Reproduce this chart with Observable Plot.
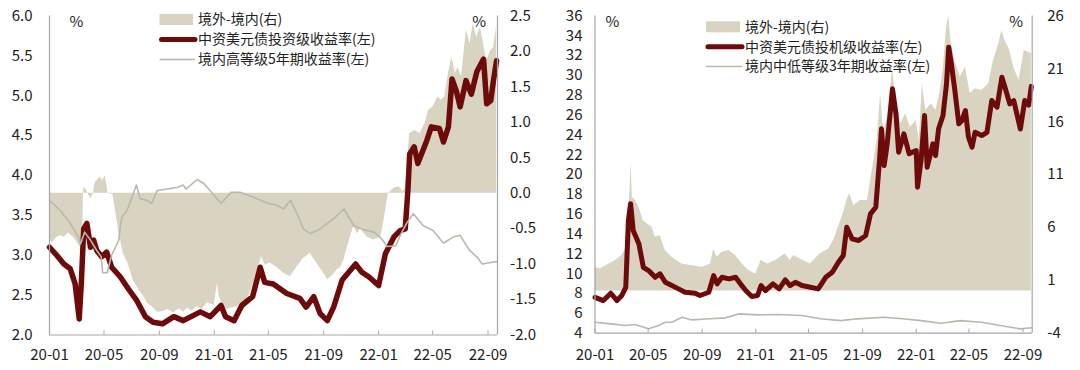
<!DOCTYPE html>
<html><head><meta charset="utf-8">
<script src="https://cdn.jsdelivr.net/npm/d3@7"></script>
<script src="https://cdn.jsdelivr.net/npm/@observablehq/plot@0.6"></script>
<style>
body{margin:0;background:#fff;}
#wrap{position:relative;width:1080px;height:370px;display:flex;font-family:"Noto Sans CJK SC",sans-serif;color:#222;}
#wrap svg.plot{flex:none;}
#legend{position:absolute;left:0;top:0;pointer-events:none;}
</style></head><body><div id="wrap"></div>
<script>
// ---------- data ----------
const xTickLabels = ["20-01","20-05","20-09","21-01","21-05","21-09","22-01","22-05","22-09"];
const leftLegend = ["境外-境内(右)", "中资美元债投资级收益率(左)", "境内高等级5年期收益率(左)"];
const rightLegend = ["境外-境内(右)", "中资美元债投机级收益率(左)", "境内中低等级3年期收益率(左)"];

// Left panel: spread (right axis), IG USD yield (left), onshore AA+ 5Y (left)
const leftSpread = [["2020-01-01",-0.66],["2020-01-08",-0.70],["2020-01-15",-0.64],["2020-01-24",-0.60],["2020-02-03",-0.62],["2020-02-12",-0.56],["2020-02-23",-0.62],["2020-03-03",-0.70],["2020-03-08",-0.75],["2020-03-14",-0.72],["2020-03-17",0.08],["2020-03-23",0.05],["2020-04-01",-0.08],["2020-04-08",0.0],["2020-04-11",0.14],["2020-04-22",0.23],["2020-04-28",0.18],["2020-05-04",0.25],["2020-05-07",0.12],["2020-05-10",0.0],["2020-05-21",-0.02],["2020-05-28",-0.30],["2020-06-03",-0.55],["2020-06-13",-0.85],["2020-06-24",-1.0],["2020-07-05",-1.23],["2020-07-12",-1.30],["2020-07-20",-1.39],["2020-07-28",-1.45],["2020-08-05",-1.55],["2020-08-12",-1.58],["2020-08-19",-1.62],["2020-08-28",-1.68],["2020-09-10",-1.67],["2020-09-20",-1.64],["2020-10-03",-1.69],["2020-10-15",-1.63],["2020-10-25",-1.68],["2020-11-02",-1.62],["2020-11-12",-1.66],["2020-11-24",-1.60],["2020-12-05",-1.64],["2020-12-16",-1.55],["2021-01-01",-1.58],["2021-01-08",-1.27],["2021-01-12",-1.45],["2021-01-19",-1.58],["2021-01-28",-1.64],["2021-02-07",-1.62],["2021-02-21",-1.60],["2021-03-03",-1.55],["2021-03-13",-1.51],["2021-03-25",-1.35],["2021-04-05",-1.13],["2021-04-16",-0.90],["2021-04-25",-1.02],["2021-05-04",-0.98],["2021-05-19",-1.04],["2021-06-04",-1.13],["2021-06-19",-1.18],["2021-07-04",-1.04],["2021-07-18",-0.92],["2021-08-02",-0.85],["2021-08-17",-0.99],["2021-09-01",-1.13],["2021-09-10",-1.22],["2021-09-22",-1.15],["2021-10-01",-1.08],["2021-10-08",-1.05],["2021-10-16",-0.94],["2021-10-30",-0.62],["2021-11-07",-0.47],["2021-11-15",-0.57],["2021-11-22",-0.50],["2021-12-07",-0.62],["2021-12-21",-0.66],["2022-01-06",-0.62],["2022-01-13",-0.38],["2022-01-19",-0.14],["2022-01-23",0.0],["2022-02-04",0.07],["2022-02-15",0.09],["2022-02-24",0.02],["2022-03-01",0.06],["2022-03-07",0.51],["2022-03-11",0.84],["2022-03-22",0.89],["2022-04-03",0.84],["2022-04-14",0.98],["2022-04-22",1.17],["2022-05-02",1.22],["2022-05-13",1.36],["2022-05-20",1.31],["2022-05-28",1.36],["2022-06-05",1.69],["2022-06-13",1.92],["2022-06-20",1.69],["2022-06-27",1.78],["2022-07-04",1.64],["2022-07-15",2.30],["2022-07-23",2.11],["2022-07-30",2.39],["2022-08-07",2.20],["2022-08-15",2.34],["2022-08-22",2.11],["2022-08-29",1.87],["2022-09-07",2.01],["2022-09-13",2.05],["2022-09-20",2.35]];

const leftRed = [["2020-01-01",3.10],["2020-01-17",3.00],["2020-02-02",2.89],["2020-02-16",2.83],["2020-02-27",2.64],["2020-03-07",2.20],["2020-03-12",2.69],["2020-03-17",3.33],["2020-03-24",3.40],["2020-04-01",3.10],["2020-04-08",3.19],["2020-04-15",3.06],["2020-04-26",2.98],["2020-05-07",3.04],["2020-05-18",2.85],["2020-06-06",2.73],["2020-06-24",2.58],["2020-07-13",2.43],["2020-08-01",2.23],["2020-08-18",2.16],["2020-09-08",2.14],["2020-10-03",2.23],["2020-10-24",2.18],["2020-12-01",2.29],["2020-12-23",2.23],["2021-01-16",2.37],["2021-01-26",2.23],["2021-02-14",2.18],["2021-03-03",2.37],["2021-03-27",2.48],["2021-04-13",2.85],["2021-04-23",2.66],["2021-05-12",2.64],["2021-06-11",2.52],["2021-07-10",2.46],["2021-07-24",2.35],["2021-08-10",2.48],["2021-08-24",2.27],["2021-09-09",2.18],["2021-09-23",2.35],["2021-10-12",2.69],["2021-11-11",2.89],["2021-11-24",2.79],["2021-12-10",2.73],["2022-01-01",2.62],["2022-01-16",3.02],["2022-02-04",3.23],["2022-02-18",3.31],["2022-03-01",3.33],["2022-03-07",3.81],["2022-03-11",4.27],["2022-03-21",4.36],["2022-03-29",4.15],["2022-04-18",4.44],["2022-04-28",4.61],["2022-05-16",4.59],["2022-05-25",4.42],["2022-06-05",4.61],["2022-06-13",5.21],["2022-06-23",5.05],["2022-07-01",4.86],["2022-07-14",5.19],["2022-07-26",5.02],["2022-08-07",5.30],["2022-08-22",5.46],["2022-08-29",4.90],["2022-09-07",4.94],["2022-09-13",5.19],["2022-09-20",5.44]];

const leftGray = [["2020-01-01",3.69],["2020-01-25",3.56],["2020-02-16",3.40],["2020-03-05",3.23],["2020-03-10",3.14],["2020-03-19",3.29],["2020-04-01",3.19],["2020-04-15",3.06],["2020-04-25",2.98],["2020-04-28",2.78],["2020-05-08",2.78],["2020-05-18",3.00],["2020-06-03",3.19],["2020-06-06",3.35],["2020-06-10",3.48],["2020-06-21",3.56],["2020-06-27",3.65],["2020-07-05",3.77],["2020-07-12",3.88],["2020-07-20",3.71],["2020-08-04",3.69],["2020-08-15",3.65],["2020-08-27",3.81],["2020-09-18",3.83],["2020-10-10",3.85],["2020-10-24",3.88],["2020-10-30",3.83],["2020-11-24",3.95],["2020-12-09",3.90],["2021-01-01",3.75],["2021-01-16",3.65],["2021-02-07",3.79],["2021-02-27",3.79],["2021-03-28",3.73],["2021-05-01",3.65],["2021-05-19",3.63],["2021-06-04",3.58],["2021-06-19",3.69],["2021-07-04",3.52],["2021-07-18",3.33],["2021-08-02",3.27],["2021-08-24",3.33],["2021-09-23",3.46],["2021-10-16",3.58],["2021-11-07",3.37],["2021-11-28",3.32],["2021-12-22",3.29],["2022-01-07",3.21],["2022-01-20",3.11],["2022-02-08",3.12],["2022-02-18",3.25],["2022-03-04",3.40],["2022-03-19",3.52],["2022-04-10",3.37],["2022-05-02",3.31],["2022-05-25",3.15],["2022-06-16",3.23],["2022-07-01",3.25],["2022-07-22",3.06],["2022-08-07",2.98],["2022-08-19",2.89],["2022-09-07",2.91],["2022-09-20",2.92]];

// Right panel: spread (right axis), HY USD yield (left), onshore mid/low grade 3Y (left)
const rightSpread = [["2020-01-01",2.24],["2020-01-13",2.08],["2020-02-02",2.55],["2020-02-17",2.87],["2020-03-02",3.34],["2020-03-13",4.13],["2020-03-21",9.8],["2020-03-23",12.17],["2020-03-26",8.86],["2020-04-02",8.54],["2020-04-10",7.91],["2020-04-20",6.65],["2020-04-28",6.34],["2020-05-10",6.02],["2020-05-17",5.07],["2020-05-28",5.23],["2020-06-09",3.81],["2020-06-24",3.18],["2020-07-17",2.55],["2020-08-09",2.39],["2020-09-02",2.24],["2020-09-20",2.55],["2020-09-27",3.97],["2020-10-05",3.18],["2020-10-16",3.66],["2020-11-01",3.81],["2020-11-16",3.34],["2020-12-01",2.55],["2020-12-16",1.92],["2021-01-01",1.6],["2021-01-13",2.87],["2021-01-28",2.55],["2021-02-15",2.87],["2021-03-09",3.5],["2021-03-20",2.87],["2021-03-28",3.34],["2021-04-13",3.0],["2021-05-05",2.55],["2021-05-27",3.5],["2021-06-16",3.97],["2021-06-27",4.76],["2021-07-08",6.02],["2021-07-19",7.29],["2021-07-27",8.54],["2021-08-03",9.18],["2021-08-12",8.07],["2021-08-27",8.54],["2021-09-12",8.54],["2021-09-23",11.38],["2021-10-04",14.22],["2021-10-12",18.64],["2021-10-19",14.86],["2021-10-31",17.06],["2021-11-08",21.16],["2021-11-16",18.0],["2021-11-27",15.8],["2021-12-08",16.75],["2021-12-19",15.48],["2022-01-01",16.11],["2022-01-08",14.22],["2022-01-15",19.58],["2022-01-23",17.06],["2022-02-04",17.69],["2022-02-15",17.06],["2022-02-25",18.95],["2022-03-04",21.16],["2022-03-11",24.94],["2022-03-16",26.0],["2022-03-22",23.37],["2022-03-30",21.79],["2022-04-11",20.2],["2022-04-23",21.16],["2022-05-04",18.64],["2022-05-15",19.11],["2022-05-30",18.95],["2022-06-15",19.58],["2022-06-26",21.79],["2022-07-08",23.37],["2022-07-15",24.63],["2022-07-22",23.68],["2022-08-02",22.74],["2022-08-11",21.16],["2022-08-23",19.9],["2022-09-04",22.74],["2022-09-20",22.45]];

const rightRed = [["2020-01-01",7.62],["2020-01-20",7.29],["2020-02-06",8.03],["2020-02-20",7.29],["2020-03-02",7.8],["2020-03-11",8.63],["2020-03-17",15.36],["2020-03-22",17.05],["2020-03-28",14.35],["2020-04-10",13.0],["2020-04-20",10.65],["2020-05-02",10.32],["2020-05-17",9.64],["2020-05-28",9.98],["2020-06-09",9.14],["2020-06-24",8.81],["2020-07-09",8.47],["2020-07-24",8.13],["2020-08-16",8.03],["2020-08-27",7.8],["2020-09-16",8.13],["2020-09-27",9.81],["2020-10-05",8.98],["2020-10-16",9.64],["2020-11-01",9.48],["2020-11-16",9.64],["2020-11-27",8.98],["2020-12-09",8.3],["2020-12-23",7.7],["2021-01-05",7.8],["2021-01-13",8.81],["2021-01-23",8.3],["2021-02-09",8.98],["2021-02-23",8.47],["2021-03-09",9.38],["2021-03-20",8.81],["2021-04-01",9.14],["2021-04-16",8.81],["2021-05-05",8.64],["2021-05-23",8.47],["2021-06-09",9.64],["2021-06-24",10.15],["2021-07-08",11.16],["2021-07-19",11.83],["2021-07-27",14.69],["2021-08-08",13.52],["2021-08-23",13.35],["2021-09-08",13.85],["2021-09-19",16.04],["2021-10-01",16.71],["2021-10-10",21.75],["2021-10-14",24.62],["2021-10-20",20.91],["2021-10-27",23.1],["2021-11-08",28.65],["2021-11-16",26.13],["2021-11-22",22.26],["2021-12-04",24.11],["2021-12-16",22.1],["2022-01-01",22.43],["2022-01-04",18.73],["2022-01-12",21.42],["2022-01-20",25.96],["2022-01-26",20.74],["2022-02-08",23.1],["2022-02-14",21.92],["2022-02-21",24.62],["2022-03-03",25.96],["2022-03-11",29.16],["2022-03-16",32.85],["2022-03-22",31.18],["2022-03-30",28.48],["2022-04-08",25.12],["2022-04-15",25.45],["2022-04-23",26.46],["2022-04-30",23.77],["2022-05-08",22.76],["2022-05-15",24.27],["2022-05-30",23.94],["2022-06-11",24.27],["2022-06-22",27.47],["2022-07-04",26.8],["2022-07-15",29.82],["2022-07-22",28.82],["2022-08-02",27.14],["2022-08-11",27.47],["2022-08-26",24.6],["2022-09-05",27.47],["2022-09-14",27.0],["2022-09-20",28.9]];

const rightGray = [["2020-01-01",5.1],["2020-02-06",4.94],["2020-03-10",4.77],["2020-04-01",4.87],["2020-05-02",4.44],["2020-05-25",4.77],["2020-06-09",5.1],["2020-06-24",5.1],["2020-07-17",5.61],["2020-08-09",5.34],["2020-09-09",5.44],["2020-10-24",5.55],["2020-11-24",5.95],["2021-01-08",5.85],["2021-02-23",5.88],["2021-04-16",5.78],["2021-05-28",5.45],["2021-07-13",5.27],["2021-08-20",5.45],["2021-10-19",5.61],["2021-12-01",5.45],["2022-01-12",5.27],["2022-02-26",5.0],["2022-04-11",5.27],["2022-05-30",5.1],["2022-07-11",4.77],["2022-08-26",4.44],["2022-09-20",4.55]];

// ---------- styling ----------
const FONT = '"Noto Sans CJK SC", sans-serif';
const AREA = "#d9d3c1", RED = "#6d0a0a", GRAY = "#b9b8ad", AXIS = "#a6a6a6", TEXT = "#222";
const parse = d3.utcParse("%Y-%m-%d");
const toRows = arr => arr.map(([d, v]) => ({date: parse(d), v}));
const xDomain = [parse("2020-01-01"), parse("2022-09-22")];
const xTicks = xTickLabels.map(d3.utcParse("%y-%m"));

function panel(o) {
  const base = o.toLeft(0);
  const clean = v => { const r = Math.round(o.fromLeft(v) * 10) / 10; return r === 0 ? 0 : r; };
  return Plot.plot({
    width: 540, height: 370,
    marginLeft: o.ml, marginRight: o.mr, marginTop: o.mt, marginBottom: o.mb,
    style: {fontFamily: FONT, fontSize: "15px", color: TEXT, background: "transparent", overflow: "visible"},
    x: {type: "utc", domain: xDomain, label: null},
    y: {domain: o.yDomain, label: null},
    marks: [
      Plot.areaY(toRows(o.spread), {x: "date", y1: base, y2: d => o.toLeft(d.v), fill: AREA}),
      Plot.line(toRows(o.red), {x: "date", y: "v", stroke: RED, strokeWidth: o.redWidth, strokeLinejoin: "round", strokeLinecap: "round"}),
      Plot.line(toRows(o.gray), {x: "date", y: "v", stroke: GRAY, strokeWidth: 1.6}),
      Plot.ruleX(xDomain, {stroke: AXIS, strokeWidth: 1.2}),
      Plot.ruleY([o.yDomain[0]], {stroke: AXIS, strokeWidth: 1.2}),
      Plot.axisY({anchor: "left", label: null, ticks: o.yTicks, tickFormat: o.yFmt, tickSize: 0, tickPadding: o.lPad, fontSize: 15}),
      Plot.axisY({anchor: "right", label: null, ticks: o.rTicks.map(o.toLeft), tickFormat: v => o.rFmt(clean(v)), tickSize: 0, tickPadding: o.rPad, fontSize: 15}),
      Plot.axisX({label: null, ticks: xTicks, tickFormat: d3.utcFormat("%y-%m"), tickSize: 4, dy: -4, tickPadding: o.xPad, stroke: AXIS, fontSize: 15}),
      Plot.text(["%"], {text: d => d, frameAnchor: "top-left", textAnchor: "start", lineAnchor: "middle", dx: o.pctL, dy: 6.5, fontSize: 15, fill: TEXT}),
      Plot.text(["%"], {text: d => d, frameAnchor: "top-right", textAnchor: "end", lineAnchor: "middle", dx: -o.pctR, dy: 6.5, fontSize: 15, fill: TEXT})
    ]
  });
}

const fL = r => 2 + (r + 2) * 4 / 4.5, iL = v => (v - 2) * 4.5 / 4 - 2;
const fR = r => 4 + (r + 4) * 32 / 30, iR = v => (v - 4) * 30 / 32 - 4;

const left = panel({
  ml: 49, mr: 43, mt: 15.5, mb: 35.5,
  yDomain: [2, 6], yTicks: d3.range(2, 6.001, 0.5), yFmt: d => d.toFixed(1),
  rTicks: d3.range(-2, 2.501, 0.5), toLeft: fL, fromLeft: iL, rFmt: r => r.toFixed(1),
  spread: leftSpread, red: leftRed, gray: leftGray, redWidth: 5.5,
  lPad: 17, rPad: 12.5, xPad: 14, pctL: 20, pctR: 11.5
});
const right = panel({
  ml: 54.5, mr: 48.3, mt: 15.5, mb: 37.3,
  yDomain: [4, 36], yTicks: d3.range(4, 36.001, 2), yFmt: d => String(d),
  rTicks: d3.range(-4, 26.001, 5), toLeft: fR, fromLeft: iR, rFmt: r => String(Math.round(r)),
  spread: rightSpread, red: rightRed, gray: rightGray, redWidth: 5,
  lPad: 12.5, rPad: 15, xPad: 16, pctL: 10.5, pctR: 9
});
const wrap = document.getElementById("wrap");
wrap.append(left, right);

// ---------- legends ----------
const svg = d3.select(wrap).append("svg").attr("id", "legend").attr("width", 1080).attr("height", 370)
  .style("font-family", FONT).style("font-size", "14px");
function legend(labels, x0, x1, tx, rows) {
  const g = svg.append("g");
  g.append("rect").attr("x", x0).attr("y", rows[0] - 5.5).attr("width", x1 - x0).attr("height", 11).attr("fill", AREA);
  g.append("line").attr("x1", x0 + 2).attr("x2", x1 + 2).attr("y1", rows[1]).attr("y2", rows[1])
    .attr("stroke", RED).attr("stroke-width", 5).attr("stroke-linecap", "round");
  g.append("line").attr("x1", x0).attr("x2", x1 + 2).attr("y1", rows[2]).attr("y2", rows[2])
    .attr("stroke", GRAY).attr("stroke-width", 1.6);
  labels.forEach((t, i) => g.append("text").attr("x", tx).attr("y", rows[i]).attr("dy", "0.35em").attr("fill", TEXT).text(t));
}
legend(leftLegend, 159.5, 193, 198, [19.5, 39.5, 59.5]);
legend(rightLegend, 706, 740, 745, [26.8, 46.8, 66.5]);
</script></body></html>
